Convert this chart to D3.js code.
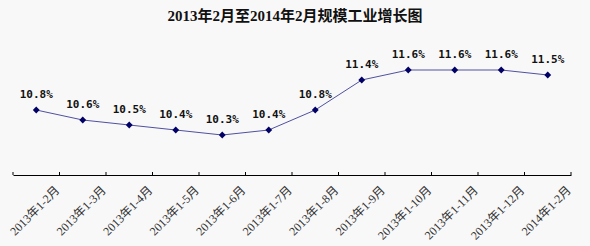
<!DOCTYPE html>
<html>
<head>
<meta charset="utf-8">
<script src="https://cdn.jsdelivr.net/npm/d3@7"></script>
<style>
body { margin: 0; background: #f8f8f8; }
</style>
</head>
<body>
<div id="chart"></div>
<script>
// data
var categories = ["2013年1-2月", "2013年1-3月", "2013年1-4月", "2013年1-5月", "2013年1-6月", "2013年1-7月",
    "2013年1-8月", "2013年1-9月", "2013年1-10月", "2013年1-11月", "2013年1-12月", "2014年1-2月"];
var growth = [10.8, 10.6, 10.5, 10.4, 10.3, 10.4, 10.8, 11.4, 11.6, 11.6, 11.6, 11.5];
var labels = ["10.8%", "10.6%", "10.5%", "10.4%", "10.3%", "10.4%", "10.8%", "11.4%", "11.6%", "11.6%", "11.6%", "11.5%"];

var width = 590, height = 246;

var svg = d3.select("#chart").append("svg")
    .attr("width", width)
    .attr("height", height);

svg.append("rect").attr("width", width).attr("height", height).attr("fill", "#f8f8f8");

svg.append("text")
    .attr("x", 295)
    .attr("y", 21)
    .attr("text-anchor", "middle")
    .attr("font-family", "'Liberation Serif', 'Noto Sans CJK SC', serif")
    .attr("font-weight", "bold")
    .attr("font-size", 15)
    .attr("fill", "#111")
    .text("2013年2月至2014年2月规模工业增长图");

var x = d3.scaleBand()
    .domain(categories)
    .range([13, 571]);

var y = d3.scaleLinear()
    .domain([9.5, 12])
    .range([175, 50]);

// axis
var axis = svg.append("g").attr("transform", "translate(0,175)")
    .call(d3.axisBottom(x).tickSize(0).tickFormat(""));
axis.select(".domain").attr("stroke", "#000").attr("stroke-width", 1.2);

// tick marks at category boundaries
var bounds = categories.map(function (d) { return x(d); }).concat([x.range()[1]]);
svg.selectAll(".tk")
    .data(bounds)
    .enter()
    .append("line")
    .attr("x1", function (d) { return d; })
    .attr("x2", function (d) { return d; })
    .attr("y1", 172)
    .attr("y2", 175)
    .attr("stroke", "#000");

// category labels
svg.selectAll(".cat")
    .data(categories)
    .enter()
    .append("text")
    .attr("transform", function (d) {
        return "translate(" + (x(d) + x.bandwidth() / 2 + 24) + ",191) rotate(-45)";
    })
    .attr("text-anchor", "end")
    .attr("font-family", "'Liberation Serif', 'Noto Sans CJK SC', serif")
    .attr("font-size", 12)
    .attr("fill", "#333")
    .text(function (d) { return d; });

var line = d3.line()
    .x(function (d, i) { return x(categories[i]) + x.bandwidth() / 2; })
    .y(function (d) { return y(d); });

svg.append("path")
    .datum(growth)
    .attr("d", line)
    .attr("fill", "none")
    .attr("stroke", "#5050a0")
    .attr("stroke-width", 1);

svg.selectAll(".pt")
    .data(growth)
    .enter()
    .append("path")
    .attr("d", d3.symbol().type(d3.symbolDiamond2).size(30))
    .attr("transform", function (d, i) {
        return "translate(" + (x(categories[i]) + x.bandwidth() / 2) + "," + y(d) + ")";
    })
    .attr("fill", "#000066");

svg.selectAll(".lbl")
    .data(growth)
    .enter()
    .append("text")
    .attr("x", function (d, i) { return x(categories[i]) + x.bandwidth() / 2; })
    .attr("y", function (d) { return y(d) - 12; })
    .attr("text-anchor", "middle")
    .attr("font-family", "'DejaVu Sans Mono', monospace")
    .attr("font-weight", "bold")
    .attr("font-size", 11)
    .attr("fill", "#111")
    .text(function (d, i) { return labels[i]; });
</script>
</body>
</html>
